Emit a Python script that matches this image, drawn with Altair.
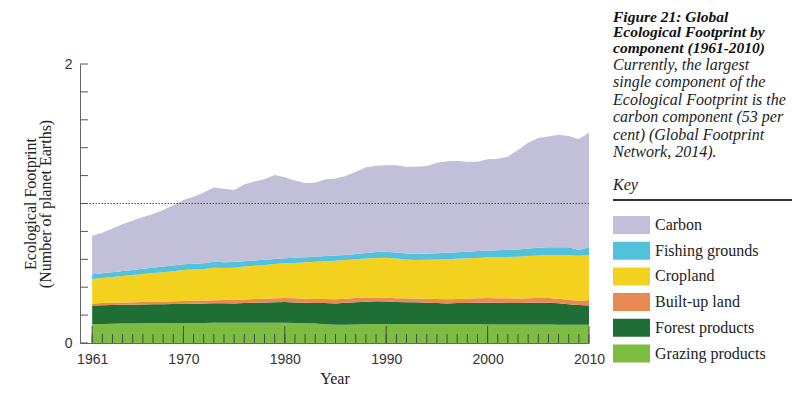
import altair as alt
import pandas as pd

years = list(range(1961, 2011))

# upper edge of each stacked band (cumulative)
grazing_top = [.136, .137, .138, .139, .140, .141, .141, .142, .142, .143,
               .143, .144, .145, .145, .146, .146, .146, .146, .146, .145,
               .143, .141, .139, .135, .130, .131, .133, .135, .136, .137,
               .136, .136, .136, .135, .135, .134, .134, .134, .134, .133,
               .133, .133, .132, .132, .132, .132, .131, .131, .130, .130]
forest_top = [.268, .270, .272, .274, .275, .276, .277, .278, .279, .280,
              .281, .283, .285, .285, .284, .286, .289, .291, .293, .294,
              .291, .288, .286, .287, .284, .288, .292, .296, .299, .297,
              .294, .292, .292, .289, .286, .284, .286, .287, .288, .289,
              .288, .287, .287, .288, .289, .289, .285, .277, .272, .268]
builtup_top = [.284, .286, .288, .290, .292, .294, .295, .297, .299, .301,
               .303, .305, .307, .308, .309, .311, .315, .318, .321, .323,
               .320, .317, .315, .315, .313, .317, .322, .327, .326, .324,
               .321, .320, .319, .317, .315, .313, .316, .318, .321, .323,
               .321, .320, .319, .320, .322, .323, .318, .310, .301, .308]
cropland_top = [.459, .466, .473, .480, .487, .494, .501, .508, .515, .523,
                .527, .531, .540, .538, .540, .548, .554, .560, .566, .571,
                .574, .578, .583, .586, .590, .595, .600, .606, .610, .612,
                .605, .598, .595, .597, .598, .600, .604, .607, .610, .614,
                .615, .617, .619, .624, .628, .631, .630, .629, .626, .631]
fishing_top = [.492, .500, .508, .516, .524, .532, .540, .548, .556, .564,
               .568, .572, .582, .578, .580, .586, .591, .597, .603, .607,
               .611, .615, .619, .623, .627, .631, .638, .645, .652, .655,
               .648, .641, .638, .641, .644, .647, .651, .655, .659, .662,
               .665, .668, .671, .677, .682, .686, .686, .686, .667, .686]
total_top = [.769, .791, .820, .851, .879, .903, .925, .953, .987, 1.025,
             1.049, 1.078, 1.114, 1.106, 1.097, 1.137, 1.157, 1.173, 1.204, 1.188,
             1.164, 1.147, 1.149, 1.173, 1.180, 1.197, 1.228, 1.259, 1.271, 1.274,
             1.274, 1.264, 1.264, 1.269, 1.293, 1.302, 1.305, 1.300, 1.300, 1.317,
             1.321, 1.336, 1.384, 1.436, 1.470, 1.481, 1.493, 1.484, 1.460, 1.508]

components = ["Grazing products", "Forest products", "Built-up land",
              "Cropland", "Fishing grounds", "Carbon"]
legend_order = ["Carbon", "Fishing grounds", "Cropland", "Built-up land",
                "Forest products", "Grazing products"]
legend_colors = ["#c2bfd8", "#52c1dc", "#f2d11f", "#eb8955", "#1f6e35", "#7dbe42"]

x_label_years = [1961, 1970, 1980, 1990, 2000, 2010]
y_label_values = [0, 1, 2]
y_tick_values = [0, 0.2, 0.4, 0.6, 0.8, 1.0, 1.2, 1.4, 1.6, 1.8, 2.0]

title_lines = ["Figure 21: Global", "Ecological Footprint by", "component (1961-2010)"]
subtitle_lines = ["Currently, the largest", "single component of the",
                  "Ecological Footprint is the", "carbon component (53 per",
                  "cent) (Global Footprint", "Network, 2014)."]

bounds = [[0.0] * len(years), grazing_top, forest_top, builtup_top,
          cropland_top, fishing_top, total_top]
rows = []
for i, name in enumerate(components):
    for j, yr in enumerate(years):
        rows.append({"year": yr, "component": name,
                     "lo": bounds[i][j], "hi": bounds[i + 1][j]})
df = pd.DataFrame(rows)

W, H = 509, 279
SERIF = "Liberation Serif"
SANS = "Liberation Sans"

x_scale = alt.Scale(domain=[1959.8, 2010], nice=False, zero=False)
y_scale = alt.Scale(domain=[0, 2], nice=False)

area = alt.Chart(df).mark_area(interpolate="linear", opacity=1).encode(
    x=alt.X("year:Q", scale=x_scale,
            axis=alt.Axis(values=x_label_years, format="d", title="Year",
                          ticks=False, grid=False, domainColor="#666",
                          labelFont=SANS, labelFontSize=14, labelColor="#333",
                          labelPadding=9, labelFlush=False,
                          titleFont=SERIF, titleFontSize=16, titleFontWeight="normal",
                          titleColor="#222", titlePadding=4)),
    y=alt.Y("hi:Q", scale=y_scale,
            axis=alt.Axis(values=y_label_values, format="d",
                          title=["Ecological Footprint", "(Number of planet Earths)"],
                          ticks=False, grid=False, domainColor="#666",
                          labelFont=SANS, labelFontSize=14, labelColor="#333",
                          labelPadding=8,
                          titleFont=SERIF, titleFontSize=16, titleFontWeight="normal",
                          titleColor="#222", titlePadding=11, titleLineHeight=15)),
    y2="lo:Q",
    color=alt.Color("component:N",
                    scale=alt.Scale(domain=legend_order, range=legend_colors),
                    legend=alt.Legend(orient="none", legendX=533, legendY=113,
                                      title="Key", titleFont=SERIF, titleFontSize=16,
                                      titleFontStyle="italic", titleFontWeight="normal",
                                      titleColor="#222", titlePadding=23,
                                      symbolType="M-1,-1H3.111V1H-1Z",
                                      symbolSize=324, symbolStrokeWidth=0,
                                      symbolOpacity=1,
                                      labelFont=SERIF, labelFontSize=16,
                                      labelColor="#222", labelOffset=24,
                                      rowPadding=7.7, padding=0, labelLimit=0)),
)

one_line = alt.Chart(pd.DataFrame({"v": [1]})).mark_rule(
    color="#2f5f4f", strokeDash=[1.5, 1.5], strokeWidth=1
).encode(y=alt.Y("v:Q", scale=y_scale))

y_ticks = alt.Chart(pd.DataFrame({"v": y_tick_values})).mark_rule(
    color="#555", strokeWidth=1
).encode(y=alt.Y("v:Q", scale=y_scale), x=alt.value(0), x2=alt.value(8))

minor_ticks = alt.Chart(pd.DataFrame({"year": years})).mark_rule(
    color="#4a4a4a", strokeWidth=1
).encode(x=alt.X("year:Q", scale=x_scale), y=alt.value(H), y2=alt.value(H - 9))

major_ticks = alt.Chart(pd.DataFrame({"year": x_label_years})).mark_rule(
    color="#4a4a4a", strokeWidth=1
).encode(x=alt.X("year:Q", scale=x_scale), y=alt.value(H), y2=alt.value(H - 17))

key_rule = alt.Chart(pd.DataFrame({"k": [0]})).mark_rule(
    color="#333", strokeWidth=2
).encode(x=alt.value(533), x2=alt.value(713), y=alt.value(136))

chart = alt.layer(area, one_line, y_ticks, minor_ticks, major_ticks, key_rule).properties(
    width=W, height=H,
    title=alt.TitleParams(
        text=title_lines, subtitle=subtitle_lines,
        anchor="start", orient="top", frame="group", dx=533, dy=103, offset=0,
        font=SERIF, fontSize=15.5, fontStyle="italic", fontWeight="bold",
        lineHeight=15.5, color="#111",
        subtitleFont=SERIF, subtitleFontSize=16, subtitleFontStyle="italic",
        subtitleFontWeight="normal", subtitleLineHeight=17.5, subtitleColor="#222",
        subtitlePadding=0.5,
    ),
    autosize=alt.AutoSizeParams(type="none"),
    padding={"left": 72, "top": 56, "right": 203, "bottom": 43},
).configure_view(stroke=None).configure_axis(domainWidth=1)

chart.save("out.html", embed_options={"renderer": "svg", "actions": False})
